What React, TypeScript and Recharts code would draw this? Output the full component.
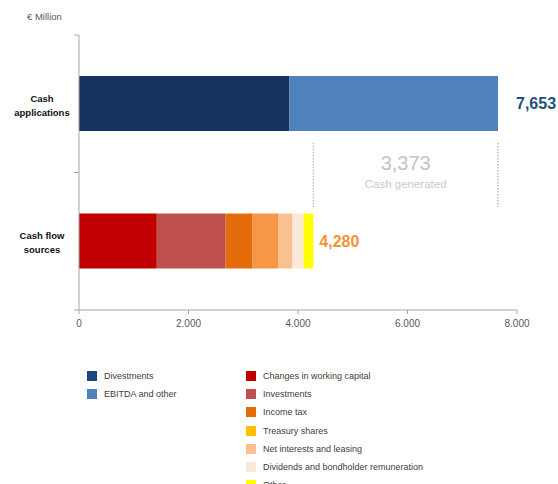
import React from "react";
import {
  BarChart,
  Bar,
  XAxis,
  YAxis,
  ReferenceLine,
  LabelList,
} from "recharts";

const categories = ["Cash applications", "Cash flow sources"];
const categoryLines = [
  ["Cash", "applications"],
  ["Cash flow", "sources"],
];

// € Million
const divestments = [3845, 0];
const ebitdaOther = [3808, 0];
const workingCapital = [0, 1421];
const investments = [0, 1258];
const incomeTax = [0, 492];
const treasuryShares = [0, 474];
const netInterests = [0, 255];
const dividends = [0, 200];
const other = [0, 180];

const totals = [7653, 4280];
const cashGenerated = 3373;
const xTicks = [0, 2000, 4000, 6000, 8000];

const series = [
  { key: "divestments", name: "Divestments", values: divestments, fill: "#16335F", legend: "#1F477E" },
  { key: "ebitda", name: "EBITDA and other", values: ebitdaOther, fill: "#4F81BD", legend: "#4F81BD" },
  { key: "wc", name: "Changes in working capital", values: workingCapital, fill: "#C00000", legend: "#C00000" },
  { key: "investments", name: "Investments", values: investments, fill: "#C0504D", legend: "#C0504D" },
  { key: "tax", name: "Income tax", values: incomeTax, fill: "#E46C0A", legend: "#E46C0A" },
  { key: "treasury", name: "Treasury shares", values: treasuryShares, fill: "#F79646", legend: "#FFC000" },
  { key: "interests", name: "Net interests and leasing", values: netInterests, fill: "#FAC090", legend: "#FAC090" },
  { key: "dividends", name: "Dividends and bondholder remuneration", values: dividends, fill: "#FDE9D9", legend: "#FDE9D9" },
  { key: "other", name: "Other", values: other, fill: "#FFFF00", legend: "#FFFF00" },
];

// which series closes each bar (and carries the total label)
const lastOfRow: Record<string, number> = { ebitda: 0, other: 1 };

const data = categories.map((name, i) => {
  const row: Record<string, number | string> = { name };
  series.forEach((s) => {
    row[s.key] = s.values[i];
  });
  return row;
});

const totalColors = ["#1F4E79", "#F39237"];
const totalOffsets = [18, 6];
const FONT = "'Liberation Sans', Arial, sans-serif";
const AXIS = "#A6A6A6";

function CategoryTick(props: any) {
  const { x, y, payload, index } = props;
  const lines = categoryLines[index] || [payload.value];
  const half = payload && payload.offset ? payload.offset : 68.75;
  return (
    <g>
      <line x1={x - 5} x2={x} y1={y - half} y2={y - half} stroke={AXIS} />
      <line x1={x - 5} x2={x} y1={y + half} y2={y + half} stroke={AXIS} />
      <text
        x={42}
        y={y}
        textAnchor="middle"
        fontFamily={FONT}
        fontSize={9.5}
        fontWeight="bold"
        fill="#111"
      >
        {lines.map((l: string, i: number) => (
          <tspan key={i} x={42} dy={i === 0 ? -2 : 14}>
            {l}
          </tspan>
        ))}
      </text>
    </g>
  );
}

function TotalLabel(props: any) {
  const { x, y, width, height, value, row } = props;
  if (!value) return null;
  return (
    <text
      x={x + width + totalOffsets[row]}
      y={y + height / 2}
      dominantBaseline="central"
      fontFamily={FONT}
      fontSize={16}
      fontWeight="bold"
      fill={totalColors[row]}
    >
      {totals[row].toLocaleString("en-US")}
    </text>
  );
}

// dotted bracket: only the middle part of the segment between the two bar centres
function DottedShape(props: any) {
  const { x1, y1, x2, y2 } = props;
  const h = y2 - y1;
  return (
    <line
      x1={x1}
      x2={x2}
      y1={y1 + h * 0.285}
      y2={y1 + h * 0.75}
      stroke="#BFBFBF"
      strokeWidth={1.5}
      strokeDasharray="1.5 1.5"
    />
  );
}

function GeneratedLabel(props: any) {
  const { viewBox } = props;
  const cx = viewBox.x + viewBox.width / 2;
  const cy = viewBox.y + viewBox.height / 2;
  return (
    <g fontFamily={FONT} textAnchor="middle">
      <text x={cx} y={cy - 10} dominantBaseline="central" fontSize={20} fill="#C4C4C4">
        {cashGenerated.toLocaleString("en-US")}
      </text>
      <text x={cx} y={cy + 11} dominantBaseline="central" fontSize={11.5} fill="#CACACA">
        Cash generated
      </text>
    </g>
  );
}

function LegendItem({ name, color }: { name: string; color: string }) {
  return (
    <div style={{ display: "flex", alignItems: "center", height: 18.2 }}>
      <div style={{ width: 10, height: 10, background: color, marginRight: 7 }} />
      <span style={{ fontSize: 9, color: "#404040", fontFamily: FONT }}>{name}</span>
    </div>
  );
}

export default function App() {
  const left = series.slice(0, 2);
  const right = series.slice(2);
  return (
    <div style={{ position: "absolute", left: 0, top: 0, width: 558, height: 484, background: "#fff", overflow: "hidden" }}>
      <div style={{ position: "absolute", left: 27, top: 11, fontSize: 9.5, color: "#595959", fontFamily: FONT }}>
        € Million
      </div>
      <BarChart
        width={558}
        height={340}
        data={data}
        layout="vertical"
        margin={{ top: 35, right: 41, left: 8, bottom: 0 }}
        barSize={55}
      >
        <YAxis
          type="category"
          dataKey="name"
          width={71}
          axisLine={{ stroke: AXIS }}
          tickLine={false}
          tickSize={0}
          tickMargin={0}
          tick={<CategoryTick />}
        />
        <XAxis
          type="number"
          domain={[0, 8000]}
          ticks={xTicks}
          height={30}
          tickSize={4}
          tickMargin={6}
          axisLine={{ stroke: AXIS }}
          tickLine={{ stroke: AXIS }}
          tick={{ fill: "#595959", fontSize: 10, fontFamily: FONT }}
          tickFormatter={(v: number) => v.toLocaleString("de-DE")}
        />
        {series.map((s) => (
          <Bar
            key={s.key}
            dataKey={s.key}
            name={s.name}
            stackId="a"
            fill={s.fill}
            isAnimationActive={false}
          >
            {s.key in lastOfRow && (
              <LabelList dataKey={s.key} content={<TotalLabel row={lastOfRow[s.key]} />} />
            )}
          </Bar>
        ))}
        <ReferenceLine
          segment={[{ x: totals[1], y: categories[0] }, { x: totals[1], y: categories[1] }]}
          shape={<DottedShape />}
        />
        <ReferenceLine
          segment={[{ x: totals[0], y: categories[0] }, { x: totals[0], y: categories[1] }]}
          shape={<DottedShape />}
        />
        <ReferenceLine
          segment={[{ x: totals[1], y: categories[0] }, { x: totals[0], y: categories[1] }]}
          stroke="none"
          label={<GeneratedLabel />}
        />
      </BarChart>
      <div style={{ position: "absolute", left: 87, top: 367 }}>
        {left.map((s) => (
          <LegendItem key={s.key} name={s.name} color={s.legend} />
        ))}
      </div>
      <div style={{ position: "absolute", left: 246, top: 367 }}>
        {right.map((s) => (
          <LegendItem key={s.key} name={s.name} color={s.legend} />
        ))}
      </div>
    </div>
  );
}
